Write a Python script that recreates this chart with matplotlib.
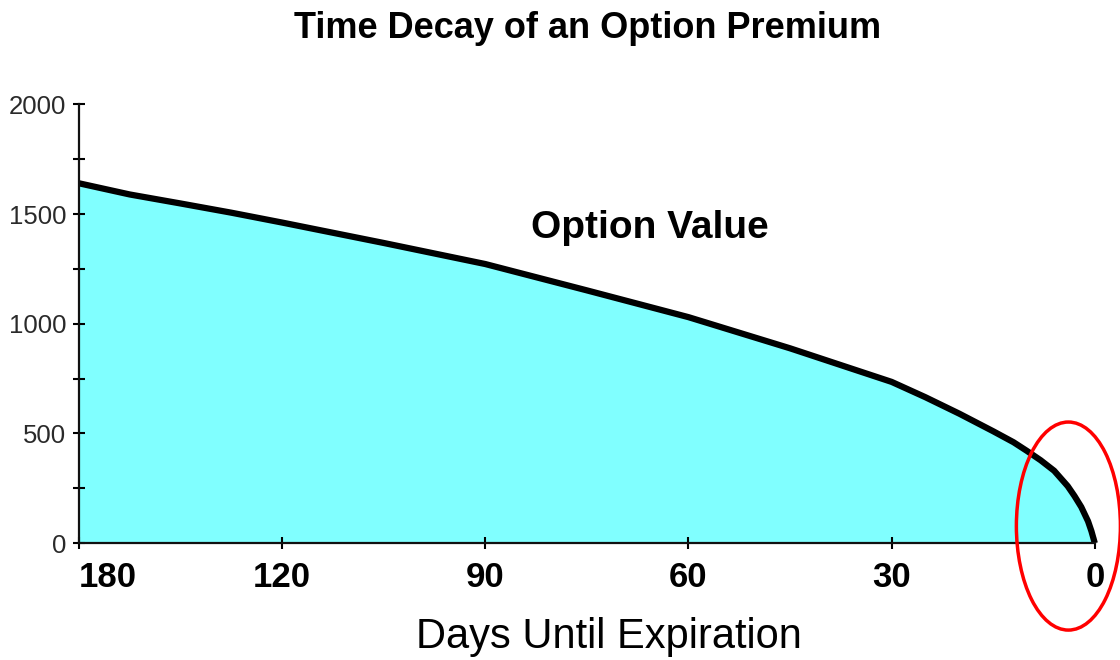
import numpy as np
import matplotlib
matplotlib.use("Agg")
import matplotlib.pyplot as plt
from matplotlib.patches import Ellipse
from matplotlib.ticker import MultipleLocator

plt.rcParams['font.family'] = ['Liberation Sans', 'DejaVu Sans']

# days left until expiry and the option's value on that day
days_left = [180, 165, 150, 135, 120, 105, 90, 75, 60, 45, 30, 25, 20, 17,
             15, 12, 10, 8, 6, 4, 3, 2, 1, 0.5, 0]
option_value = [1640, 1589, 1548, 1506, 1461, 1368, 1272, 1152, 1030, 888,
                735, 665, 590, 542, 510, 460, 420, 378, 330, 260, 215, 165,
                100, 55, 0]

tick_days = [180, 120, 90, 60, 30, 0]
tick_labels = ["180", "120", "90", "60", "30", "0"]

# the day axis gives each labelled interval the same width
_day_pts = [0, 30, 60, 90, 120, 180]
_pos_pts = [0, 1, 2, 3, 4, 5]


def to_pos(d):
    return np.interp(d, _day_pts, _pos_pts)


def to_day(p):
    return np.interp(p, _pos_pts, _day_pts)


fig = plt.figure(figsize=(11.2, 6.6), dpi=100)
ax = fig.add_axes([0.0705, 0.177, 0.907, 0.665])

ax.set_xscale('function', functions=(to_pos, to_day))
ax.set_xlim(180, 0)
ax.set_ylim(0, 2000)

ax.fill_between(days_left, option_value, 0, color='#80ffff', linewidth=0)
ax.plot(days_left, option_value, color='black', linewidth=4.5,
        solid_capstyle='butt', clip_on=False)

for side in ('top', 'right'):
    ax.spines[side].set_visible(False)
for side in ('left', 'bottom'):
    ax.spines[side].set_linewidth(1.6)
    ax.spines[side].set_color('#111111')

ax.yaxis.set_major_locator(MultipleLocator(500))
ax.yaxis.set_minor_locator(MultipleLocator(250))
ax.tick_params(axis='y', which='both', direction='inout', length=8,
               width=1.5, labelsize=18.5, labelcolor='#2a2a2a', pad=5)

ax.set_xticks(tick_days)
ax.set_xticklabels(tick_labels, fontsize=25, fontweight='bold')
ax.xaxis.set_minor_locator(plt.NullLocator())
ax.tick_params(axis='x', which='both', direction='inout', length=8,
               width=1.5, pad=9)
ax.get_xticklabels()[0].set_horizontalalignment('left')

fig.text(0.525, 0.957, "Time Decay of an Option Premium", ha='center',
         va='center', fontsize=26, fontweight='bold')
fig.text(0.58, 0.655, "Option Value", ha='center', va='center',
         fontsize=28, fontweight='bold')
fig.text(0.544, 0.035, "Days Until Expiration", ha='center', va='center',
         fontsize=30)

# red ring around the final days
ax.add_patch(Ellipse((0.974, 0.039), 0.1024, 0.474, transform=ax.transAxes,
                     fill=False, edgecolor='#ff0000', linewidth=2.5,
                     clip_on=False, zorder=5))

fig.savefig("out.png", dpi=100)
